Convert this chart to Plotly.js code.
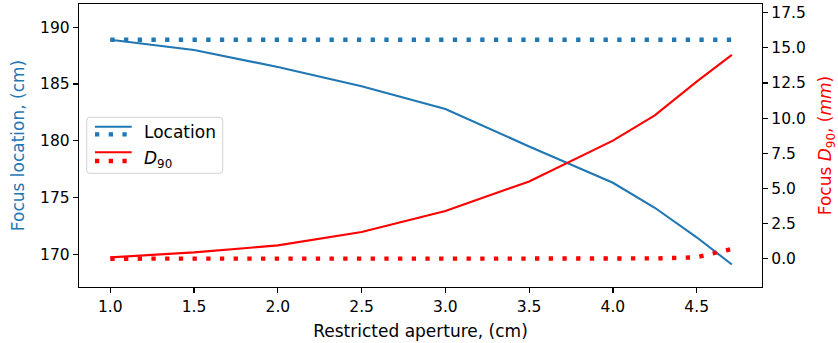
<!DOCTYPE html>
<html>
<head>
<meta charset="utf-8">
<script src="https://cdn.plot.ly/plotly-3.0.1.min.js"></script>
<style>
  html, body { margin: 0; padding: 0; background: #fff; }
  #chart { width: 838px; height: 343px; }
</style>
</head>
<body>
<div id="chart"></div>
<script>
// Restricted aperture (cm)
const aperture = [1.0, 1.5, 2.0, 2.5, 3.0, 3.5, 4.0, 4.25, 4.5, 4.71];
// Focus location (cm): restricted vs. full-aperture reference
const focusLocation = [188.9, 188.0, 186.5, 184.8, 182.8, 179.5, 176.3, 174.1, 171.5, 169.1];
const focusLocationRef = [188.9, 188.9, 188.9, 188.9, 188.9, 188.9, 188.9, 188.9, 188.9, 188.9];
// Focus D90 (mm): restricted vs. full-aperture reference
const focusD90 = [0.1, 0.45, 0.95, 1.9, 3.4, 5.5, 8.4, 10.2, 12.6, 14.5];
const focusD90Ref = [0.0, 0.0, 0.0, 0.0, 0.0, 0.0, 0.0, 0.02, 0.1, 0.7];

const xTicks = [1.0, 1.5, 2.0, 2.5, 3.0, 3.5, 4.0, 4.5];
const yLeftTicks = [170, 175, 180, 185, 190];
const yRightTicks = [0.0, 2.5, 5.0, 7.5, 10.0, 12.5, 15.0, 17.5];
const legendLabels = ['Location', '<i>D</i><sub>90</sub>'];

const BLUE = '#1f77b4';
const RED = '#ff0000';
const FONT = 'DejaVu Sans, Verdana, sans-serif';
const DOTTED = '4.3px,9.4px';
const TICK_SIZE = 15.5;
const LABEL_SIZE = 17;

// plot area in pixels
const W = 838, H = 343;
const M = { l: 79, r: 76, t: 4, b: 56 };
const plotW = W - M.l - M.r, plotH = H - M.t - M.b;
const px = x => (x - M.l) / plotW;
const py = y => 1 - (y - M.t) / plotH;

const traces = [
  { x: aperture, y: focusLocationRef, yaxis: 'y', mode: 'lines',
    line: { color: BLUE, width: 4.3, dash: DOTTED }, showlegend: false, hoverinfo: 'skip' },
  { x: aperture, y: focusLocation, yaxis: 'y', mode: 'lines',
    line: { color: BLUE, width: 2.1 }, showlegend: false },
  { x: aperture, y: focusD90Ref, yaxis: 'y2', mode: 'lines',
    line: { color: RED, width: 4.3, dash: DOTTED }, showlegend: false, hoverinfo: 'skip' },
  { x: aperture, y: focusD90, yaxis: 'y2', mode: 'lines',
    line: { color: RED, width: 2.1 }, showlegend: false }
];

// legend box with rounded corners, drawn in paper coordinates
function roundedRect(x0, y0, x1, y1, r) {
  const X = v => px(v).toFixed(5), Y = v => py(v).toFixed(5);
  return `M${X(x0 + r)},${Y(y0)} L${X(x1 - r)},${Y(y0)} Q${X(x1)},${Y(y0)} ${X(x1)},${Y(y0 + r)} ` +
         `L${X(x1)},${Y(y1 - r)} Q${X(x1)},${Y(y1)} ${X(x1 - r)},${Y(y1)} ` +
         `L${X(x0 + r)},${Y(y1)} Q${X(x0)},${Y(y1)} ${X(x0)},${Y(y1 - r)} ` +
         `L${X(x0)},${Y(y0 + r)} Q${X(x0)},${Y(y0)} ${X(x0 + r)},${Y(y0)} Z`;
}
function handle(y, color, width, dash) {
  return { type: 'line', xref: 'paper', yref: 'paper',
    x0: px(95), x1: px(131.7), y0: py(y), y1: py(y),
    line: { color: color, width: width, dash: dash } };
}

const shapes = [
  { type: 'path', xref: 'paper', yref: 'paper', path: roundedRect(86.7, 117.3, 222.7, 173.3, 3),
    fillcolor: 'rgba(255,255,255,0.8)', line: { color: '#d0d0d0', width: 1 } },
  handle(126.7, BLUE, 2.1, 'solid'),
  handle(134.3, BLUE, 4.3, DOTTED),
  handle(152.3, RED, 2.1, 'solid'),
  handle(161.0, RED, 4.3, DOTTED)
];

const annotations = [
  { xref: 'paper', yref: 'paper', x: px(141.5), y: py(132), xanchor: 'left', yanchor: 'middle',
    text: legendLabels[0], showarrow: false, font: { family: FONT, size: LABEL_SIZE, color: '#000' } },
  { xref: 'paper', yref: 'paper', x: px(141.5), y: py(159), xanchor: 'left', yanchor: 'middle',
    text: legendLabels[1], showarrow: false, font: { family: FONT, size: LABEL_SIZE, color: '#000' } }
];

const axisCommon = {
  showgrid: false, zeroline: false, showline: true, linecolor: '#000', linewidth: 1.2,
  ticks: 'outside', ticklen: 5, tickwidth: 1.2, tickcolor: '#000',
  tickfont: { family: FONT, size: TICK_SIZE, color: '#000' }
};

const layout = {
  width: W, height: H,
  margin: M,
  paper_bgcolor: '#fff', plot_bgcolor: '#fff',
  font: { family: FONT, size: TICK_SIZE, color: '#000' },
  showlegend: false,
  xaxis: Object.assign({}, axisCommon, {
    range: [0.813, 4.89], mirror: true,
    tickvals: xTicks, ticktext: xTicks.map(v => v.toFixed(1)),
    title: { text: 'Restricted aperture, (cm)', font: { family: FONT, size: LABEL_SIZE, color: '#000' }, standoff: 10 }
  }),
  yaxis: Object.assign({}, axisCommon, {
    range: [167.12, 192.05],
    tickvals: yLeftTicks, ticktext: yLeftTicks.map(String),
    title: { text: 'Focus location, (cm)', font: { family: FONT, size: LABEL_SIZE, color: BLUE }, standoff: 11 }
  }),
  yaxis2: Object.assign({}, axisCommon, {
    range: [-2.01, 18.12], overlaying: 'y', side: 'right',
    tickvals: yRightTicks, ticktext: yRightTicks.map(v => v.toFixed(1)),
    title: { text: 'Focus <i>D</i><sub>90</sub>, (<i>mm</i>)', font: { family: FONT, size: LABEL_SIZE, color: RED }, standoff: 16 }
  }),
  shapes: shapes,
  annotations: annotations
};

Plotly.newPlot('chart', traces, layout, { displayModeBar: false, staticPlot: true });
</script>
</body>
</html>
